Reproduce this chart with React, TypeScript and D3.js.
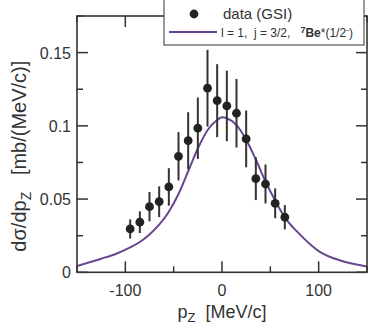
import React from 'react';
import * as d3 from 'd3';

// measured points (GSI)
const dataX = [-95, -85, -75, -65, -55, -45, -35, -25, -15, -5, 5, 15, 25, 35, 45, 55, 65];
const dataY = [0.0296, 0.0342, 0.0448, 0.0482, 0.0583, 0.0792, 0.0899, 0.0984, 0.1257, 0.1172, 0.1136, 0.1086, 0.0911, 0.0639, 0.0603, 0.0471, 0.0376];
const dataErr = [0.0065, 0.0074, 0.0100, 0.0105, 0.0128, 0.0165, 0.0194, 0.0210, 0.0262, 0.0249, 0.0241, 0.0234, 0.0194, 0.0146, 0.0133, 0.0102, 0.0083];

// calculation, l=1 j=3/2
const curveX = [-150, -125, -110, -95, -85, -75, -65, -55, -45, -35, -25, -15, -5, 0, 5, 15, 25, 35, 45, 55, 65, 80, 100, 125, 150];
const curveY = [0.0043, 0.0093, 0.0125, 0.017, 0.0207, 0.0258, 0.0325, 0.0414, 0.0535, 0.069, 0.0845, 0.097, 0.104, 0.1058, 0.1052, 0.1005, 0.0905, 0.077, 0.062, 0.049, 0.0375, 0.0262, 0.0145, 0.0075, 0.004];

const xMajor = [-100, 0, 100];
const xMinor = [-150, -50, 50, 150];
const yMajor = [0, 0.05, 0.1, 0.15];
const yMinor = [0.025, 0.075, 0.125, 0.175];

const W = 374, H = 328;
const L = 77, R = 367, T = 16, B = 272.3;
const font = '"Liberation Sans", Arial, Helvetica, sans-serif';
const ink = '#333';

export default function App() {
  const x = d3.scaleLinear().domain([-150, 150]).range([L, R]);
  const y = d3.scaleLinear().domain([0, 0.175]).range([B, T]);

  const line = d3.line<number>()
    .x((d, i) => x(curveX[i]))
    .y(d => y(d))
    .curve(d3.curveMonotoneX);

  const vTick = (v: number, len: number, key: string) => (
    <g key={key}>
      <line x1={x(v)} x2={x(v)} y1={B} y2={B - len} stroke={ink} strokeWidth={1.5} />
      <line x1={x(v)} x2={x(v)} y1={T} y2={T + len} stroke={ink} strokeWidth={1.5} />
    </g>
  );
  const hTick = (v: number, len: number, key: string) => (
    <g key={key}>
      <line x1={L} x2={L + len} y1={y(v)} y2={y(v)} stroke={ink} strokeWidth={1.5} />
      <line x1={R} x2={R - len} y1={y(v)} y2={y(v)} stroke={ink} strokeWidth={1.5} />
    </g>
  );

  return (
    <svg width={W} height={H} style={{ position: 'absolute', left: 0, top: 0, fontFamily: font }}>
      <rect width={W} height={H} fill="#fff" />
      <defs>
        <clipPath id="plot">
          <rect x={L} y={T} width={R - L} height={B - T} />
        </clipPath>
      </defs>

      <path d={line(curveY) || ''} fill="none" stroke="#66478f" strokeWidth={2} clipPath="url(#plot)" />

      {dataX.map((d, i) => (
        <line key={'e' + i} x1={x(d)} x2={x(d)} y1={y(dataY[i] - dataErr[i])} y2={y(dataY[i] + dataErr[i])}
          stroke="#333" strokeWidth={2} />
      ))}
      {dataX.map((d, i) => (
        <circle key={'p' + i} cx={x(d)} cy={y(dataY[i])} r={4.4} fill="#222" />
      ))}

      <rect x={L} y={T} width={R - L} height={B - T} fill="none" stroke={ink} strokeWidth={1.6} />
      {xMajor.map((v, i) => vTick(v, 11, 'xM' + i))}
      {xMinor.map((v, i) => vTick(v, 6, 'xm' + i))}
      {yMajor.map((v, i) => hTick(v, 11, 'yM' + i))}
      {yMinor.map((v, i) => hTick(v, 6, 'ym' + i))}

      {xMajor.map(v => (
        <text key={'xl' + v} x={x(v)} y={B + 24} textAnchor="middle" fontSize={16} fill={ink}>{String(v)}</text>
      ))}
      {yMajor.map(v => (
        <text key={'yl' + v} x={L - 6} y={y(v) + 6} textAnchor="end" fontSize={16} fill={ink}>{String(v)}</text>
      ))}

      <text x={x(0)} y={318} textAnchor="middle" fontSize={18} fill={ink}>
        p<tspan fontSize={13} dy={4}>Z</tspan><tspan dy={-4}>{'\u00a0\u00a0[MeV/c]'}</tspan>
      </text>
      <text transform={`translate(26,${(T + B) / 2 + 12}) rotate(-90)`} textAnchor="middle" fontSize={20} fill={ink}>
        dσ/dp<tspan fontSize={14} dy={5}>Z</tspan><tspan dy={-5}>{'\u00a0\u00a0\u00a0[mb/(MeV/c)]'}</tspan>
      </text>

      <g>
        <rect x={164} y={-1} width={200} height={46} fill="#fff" stroke="#555" strokeWidth={1.2} />
        <circle cx={194} cy={14} r={4.4} fill="#222" />
        <text x={223} y={19} fontSize={15} fill={ink}>data (GSI)</text>
        <line x1={169} x2={217} y1={32} y2={32} stroke="#66478f" strokeWidth={2} />
        <text x={221} y={37} fontSize={12} fill={ink}>
          {'l = 1,\u00a0 j = 3/2,\u00a0\u00a0 '}
          <tspan fontWeight="bold" fontSize={9} dy={-4}>7</tspan>
          <tspan fontWeight="bold" dy={4}>Be</tspan>
          <tspan>*(1/2</tspan>
          <tspan fontSize={9} dy={-4}>-</tspan>
          <tspan dy={4}>)</tspan>
        </text>
      </g>
    </svg>
  );
}
